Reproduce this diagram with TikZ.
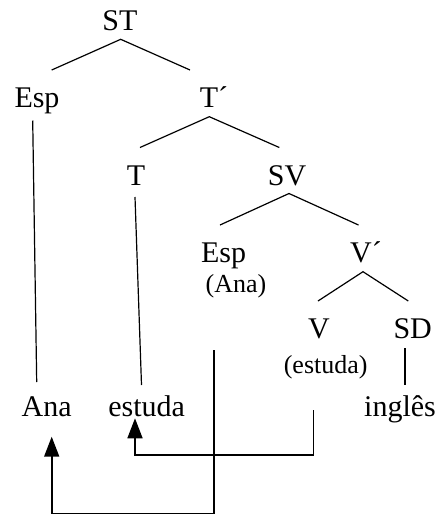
\documentclass[tikz,border=0pt]{standalone}
\usepackage{fontspec}
\setmainfont{Liberation Serif}
\usetikzlibrary{arrows.meta}
\begin{document}
\begin{tikzpicture}[x=1pt, y=-1pt,
  cat/.style={font=\fontsize{30}{36}\selectfont, inner sep=0pt, anchor=base},
  note/.style={font=\fontsize{26}{30}\selectfont, inner sep=0pt, anchor=base},
  branch/.style={line width=1.2pt},
  move/.style={line width=1.6pt, line join=miter, -{Triangle[length=20pt,width=15pt]}}]
\useasboundingbox (0,0) rectangle (439,515);

% category labels
\node[cat] (st)    at (120,30)    {ST};
\node[cat] (esp1)  at (37,107)    {Esp};
\node[cat] (tbar)  at (214,107)   {T´};
\node[cat] (t)     at (136,185)   {T};
\node[cat] (sv)    at (287,185)   {SV};
\node[cat] (esp2)  at (223.5,262) {Esp};
\node[note] (ana2) at (236,292)   {(Ana)};
\node[cat] (vbar)  at (366,262)   {V´};
\node[cat] (v)     at (319,338)   {V};
\node[note] (est2) at (325.7,373) {(estuda)};
\node[cat] (sd)    at (412.7,338) {SD};

% words
\node[cat] (ana)    at (46.7,416)  {Ana};
\node[cat] (estuda) at (146.7,416) {estuda};
\node[cat] (ingles) at (400,416)   {inglês};

% branch end points
\coordinate (st-a)   at (120.7,39.3);
\coordinate (st-l)   at (51.7,70);
\coordinate (st-r)   at (190,70);
\coordinate (tb-a)   at (209.3,116.7);
\coordinate (tb-l)   at (140,147.5);
\coordinate (tb-r)   at (279.3,147.5);
\coordinate (sv-a)   at (289,193.5);
\coordinate (sv-l)   at (220,225);
\coordinate (sv-r)   at (358.5,225);
\coordinate (vb-a)   at (363,271.7);
\coordinate (vb-l)   at (318,301);
\coordinate (vb-r)   at (408.3,301);
\coordinate (esp1-d) at (32.7,120.5);
\coordinate (ana-u)  at (36.7,382);
\coordinate (t-d)    at (135,197);
\coordinate (est-u)  at (141.5,385);
\coordinate (sd-d)   at (405,348.3);
\coordinate (ing-u)  at (405,385);

% tree branches
\draw[branch] (st-l) -- (st-a) -- (st-r);
\draw[branch] (tb-l) -- (tb-a) -- (tb-r);
\draw[branch] (sv-l) -- (sv-a) -- (sv-r);
\draw[branch] (vb-l) -- (vb-a) -- (vb-r);
\draw[branch] (esp1-d) -- (ana-u);
\draw[branch] (t-d) -- (est-u);
\draw[branch] (sd-d) -- (ing-u);

% movement arrows
\coordinate (v-trace)   at (313.3,410);
\coordinate (estuda-in) at (135,418.3);
\coordinate (esp-trace) at (214,350);
\coordinate (ana-in)    at (51.7,436.7);
\draw[move] (v-trace) -- ++(0,45) -| (estuda-in);
\draw[move] (esp-trace) -- ++(0,163.3) -| (ana-in);
\end{tikzpicture}
\end{document}
